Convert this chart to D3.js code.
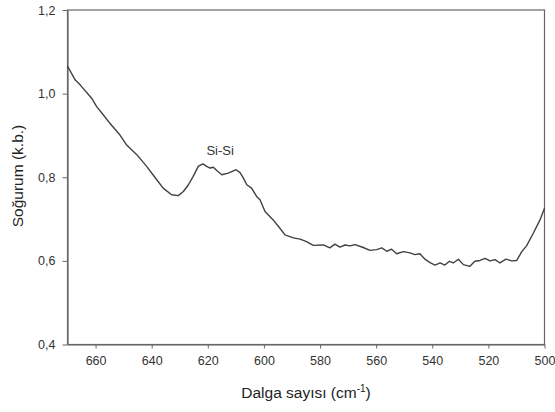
<!DOCTYPE html>
<html>
<head>
<meta charset="utf-8">
<script src="https://cdn.jsdelivr.net/npm/d3@7/dist/d3.min.js"></script>
<style>
  body { margin: 0; background: #fff; }
  svg { display: block; }
</style>
</head>
<body>
<div id="chart"></div>
<script>

// ---DATA---//

var wavenumbers = [ 670, 667.3, 665.5, 661.4, 659.6, 657.2, 654.9, 651.3, 648.9, 645.3,
		641.8, 638.2, 635.9, 632.9, 630.5, 628.7, 626.9, 625.2, 623.4, 621.8, 620.4,
		619.2, 618.0, 616.8, 615.0, 612.7, 609.9, 608.5, 607.3, 606.1, 604.4, 602.6,
		601.4, 599.6, 596.7, 594.3, 592.5, 589.5, 587.1, 584.8, 582.4, 578.8, 576.5,
		574.7, 572.9, 571.1, 569.3, 567.5, 564.6, 562.2, 559.8, 558.0, 556.2, 554.5,
		552.7, 550.3, 547.9, 546.2, 544.4, 542.6, 540.8, 539.0, 537.2, 535.5, 533.9,
		532.5, 530.7, 528.9, 526.6, 524.8, 523.0, 521.2, 519.4, 517.6, 515.9, 513.7,
		511.7, 509.9, 508.1, 506.4, 504.0, 501.6, 500 ];

var absorbance = [ 1.066, 1.033, 1.021, 0.989, 0.969, 0.949, 0.929, 0.901, 0.877, 0.854,
		0.826, 0.794, 0.774, 0.758, 0.756, 0.766, 0.782, 0.802, 0.826, 0.832, 0.826,
		0.822, 0.824, 0.816, 0.806, 0.810, 0.818, 0.811, 0.798, 0.782, 0.774, 0.754,
		0.746, 0.718, 0.698, 0.678, 0.662, 0.655, 0.652, 0.646, 0.637, 0.638, 0.631,
		0.640, 0.633, 0.638, 0.636, 0.639, 0.632, 0.625, 0.627, 0.631, 0.623, 0.628,
		0.617, 0.622, 0.619, 0.615, 0.617, 0.604, 0.596, 0.590, 0.595, 0.590, 0.599,
		0.595, 0.604, 0.591, 0.587, 0.599, 0.601, 0.606, 0.600, 0.603, 0.595, 0.604,
		0.600, 0.601, 0.622, 0.636, 0.666, 0.698, 0.726 ];

var xTicks = [ 660, 640, 620, 600, 580, 560, 540, 520, 500 ];
var yTicks = [ 0.4, 0.6, 0.8, 1.0, 1.2 ];

var peakLabel = { text : "Si-Si", x : 615.6, y : 0.853 };

// ---LAYOUT---//

var width = 555;
var height = 412;

var margin = {
	left : 67.5,
	top : 10,
	right : 10.5,
	bottom : 67.5
};

var fontFamily = "'Liberation Sans', Arial, sans-serif";
var axisColor = "#666666";

var svg = d3.select("#chart").append("svg") //
.attr("width", width) //
.attr("height", height);

var xScale = d3.scaleLinear().domain([ 670, 500 ]).range(
		[ margin.left, width - margin.right ]);

var yScale = d3.scaleLinear().domain([ 0.4, 1.2 ]).range(
		[ height - margin.bottom, margin.top ]);

var commaFormat = function(d) {
	return d3.format(".1f")(d).replace(".", ",");
};

// frame
svg.append("rect") //
.attr("x", xScale(670)) //
.attr("y", yScale(1.2)) //
.attr("width", xScale(500) - xScale(670)) //
.attr("height", yScale(0.4) - yScale(1.2)) //
.attr("fill", "none") //
.attr("stroke", axisColor) //
.attr("stroke-width", 1.2);

// x axis
var xAxis = d3.axisBottom(xScale).tickValues(xTicks).tickSize(4)
		.tickSizeOuter(0).tickPadding(8);

var gx = svg.append("g") //
.attr("transform", "translate(0," + yScale(0.4) + ")") //
.call(xAxis);

// y axis
var yAxis = d3.axisLeft(yScale).tickValues(yTicks).tickSize(5)
		.tickSizeOuter(0).tickPadding(7).tickFormat(commaFormat);

var gy = svg.append("g") //
.attr("transform", "translate(" + xScale(670) + ",0)") //
.call(yAxis);

[ gx, gy ].forEach(function(g) {
	g.select(".domain").attr("stroke", axisColor).attr("stroke-width", 1.2);
	g.selectAll(".tick line").attr("stroke", axisColor);
	g.selectAll(".tick text") //
	.attr("font-family", fontFamily) //
	.attr("font-size", "12.5px") //
	.attr("fill", "#333333");
});

// spectrum line
var points = wavenumbers.map(function(w, i) {
	return [ w, absorbance[i] ];
});

var line = d3.line() //
.x(function(d) {
	return xScale(d[0]);
}) //
.y(function(d) {
	return yScale(d[1]);
}) //
.curve(d3.curveLinear);

svg.append("path") //
.datum(points) //
.attr("d", line) //
.attr("fill", "none") //
.attr("stroke", "#404040") //
.attr("stroke-width", 1.4) //
.attr("stroke-linejoin", "round");

// peak label
svg.append("text") //
.attr("x", xScale(peakLabel.x)) //
.attr("y", yScale(peakLabel.y)) //
.attr("text-anchor", "middle") //
.attr("font-family", fontFamily) //
.attr("font-size", "13px") //
.attr("fill", "#333333") //
.text(peakLabel.text);

// axis titles
var xTitle = svg.append("text") //
.attr("x", (xScale(670) + xScale(500)) / 2) //
.attr("y", 398) //
.attr("text-anchor", "middle") //
.attr("font-family", fontFamily) //
.attr("font-size", "15.5px") //
.attr("fill", "#222222");

xTitle.append("tspan").text("Dalga sayısı (cm");
xTitle.append("tspan").attr("dy", -6).attr("font-size", "10px").text("-1");
xTitle.append("tspan").attr("dy", 6).text(")");

svg.append("text") //
.attr("transform", "translate(23,176) rotate(-90)") //
.attr("text-anchor", "middle") //
.attr("font-family", fontFamily) //
.attr("font-size", "15.5px") //
.attr("fill", "#222222") //
.text("Soğurum (k.b.)");

</script>
</body>
</html>
